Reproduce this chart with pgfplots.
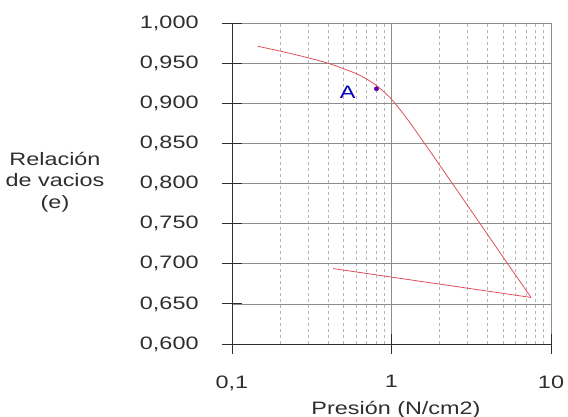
\documentclass[border=0pt]{standalone}
\usepackage{pgfplots}
\pgfplotsset{compat=1.18}
\usepackage{fontspec}
\setmainfont{Liberation Sans}[FakeStretch=1.3]
\definecolor{txt}{HTML}{2E2E2E}
\definecolor{curva}{HTML}{E0505A}
\definecolor{gmaj}{HTML}{8C8C8C}
\definecolor{gmin}{HTML}{B4B4B4}
\newcommand\f{\fontsize{18bp}{21.5bp}\selectfont}

\begin{document}
\begin{tikzpicture}
\useasboundingbox (-232bp,-73bp) rectangle (336bp,344bp);
\begin{axis}[
    at={(0,0)}, anchor=south west,
    scale only axis,
    width=319bp, height=321bp,
    xmode=log,
    xmin=0.1, xmax=10,
    ymin=0.6, ymax=1.0,
    axis lines=left,
    axis line style={-, txt, line width=0.8pt},
    xtick={0.1,1,10},
    xticklabels={{0,1},{1},{10}},
    ytick={0.6,0.65,0.7,0.75,0.8,0.85,0.9,0.95,1.0},
    yticklabels={{0,600},{0,650},{0,700},{0,750},{0,800},{0,850},{0,900},{0,950},{1,000}},
    tick align=center,
    major tick length=20bp,
    minor tick length=0pt,
    tick style={txt, line width=0.8pt},
    grid=both,
    major grid style={gmaj, line width=0.7pt},
    minor grid style={gmin, dashed, line width=0.6pt},
    ticklabel style={font=\f, text=txt},
    yticklabel style={anchor=east, xshift=-20bp},
    xticklabel style={anchor=north, yshift=-18bp},
    clip=false,
]
% curva de compresion virgen
\addplot[curva, line width=0.8pt, smooth] coordinates {
    (0.145,0.971) (0.2,0.965) (0.282,0.958) (0.398,0.950)
    (0.501,0.943) (0.631,0.935) (0.794,0.923) (1.0,0.905)
    (1.259,0.880) (1.56,0.854) (2.37,0.802) (3.65,0.748)
    (5.31,0.701) (7.5,0.658)
};
% rama de descarga
\addplot[curva, line width=0.8pt] coordinates {
    (7.5,0.658) (0.43,0.694)
};
% punto A
\addplot[only marks, mark=*, mark size=2.2bp, color=blue!65!red] coordinates {(0.805,0.918)};
\node[font=\f, text=blue!75!black] at (axis cs:0.531,0.914) {A};
\end{axis}
\node[font=\f, text=txt, align=center] at (-177bp,162bp) {Relación\\de vacios\\(e)};
\node[font=\f, text=txt] at (164bp,-66bp) {Presión (N/cm2)};
\end{tikzpicture}
\end{document}
